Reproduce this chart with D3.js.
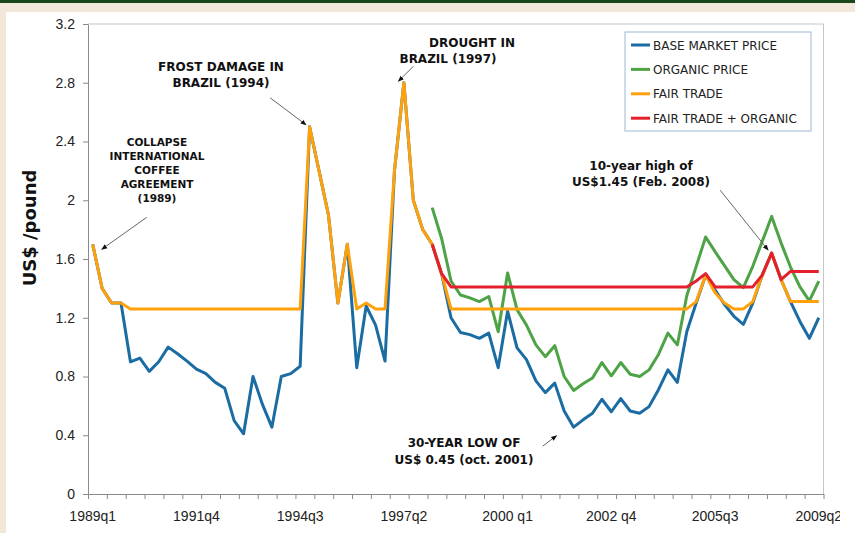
<!DOCTYPE html>
<html>
<head>
<meta charset="utf-8">
<script src="https://cdn.jsdelivr.net/npm/d3@7"></script>
<style>
body { margin: 0; background: #f3e7da; }
svg { display: block; font-family: "DejaVu Sans", Verdana, sans-serif; }
.axis path, .axis line { stroke: #8a8a8a; }
.axis text { font-size: 14px; fill: #222; }
.note { font-weight: bold; fill: #111; text-anchor: middle; }
</style>
</head>
<body>
<script>
// quarterly prices, 1989q1 onwards (US$ / pound)
const basePrice = [1.70, 1.40, 1.30, 1.30, 0.90, 0.925, 0.835, 0.90, 1.00, 0.955,
  0.905, 0.85, 0.82, 0.76, 0.72, 0.50, 0.41, 0.80, 0.61, 0.455,
  0.80, 0.82, 0.87, 2.50, 2.20, 1.90, 1.30, 1.70, 0.86, 1.28,
  1.15, 0.905, 2.20, 2.80, 2.00, 1.80, 1.70, 1.50, 1.20, 1.10,
  1.085, 1.06, 1.095, 0.86, 1.245, 0.995, 0.915, 0.77, 0.69, 0.755,
  0.565, 0.455, 0.505, 0.55, 0.645, 0.56, 0.65, 0.565, 0.55, 0.595,
  0.71, 0.845, 0.76, 1.105, 1.30, 1.49, 1.39, 1.29, 1.21, 1.155,
  1.30, 1.49, 1.64, 1.46, 1.31, 1.175, 1.06, 1.20];

const organicPrice = [null, null, null, null, null, null, null, null, null, null,
  null, null, null, null, null, null, null, null, null, null,
  null, null, null, null, null, null, null, null, null, null,
  null, null, null, null, null, null, 1.95, 1.74, 1.45, 1.355,
  1.335, 1.31, 1.345, 1.105, 1.505, 1.255, 1.15, 1.015, 0.935, 1.01,
  0.80, 0.705, 0.75, 0.79, 0.895, 0.805, 0.895, 0.815, 0.80, 0.845,
  0.95, 1.095, 1.015, 1.35, 1.55, 1.75, 1.65, 1.555, 1.46, 1.405,
  1.55, 1.72, 1.89, 1.71, 1.545, 1.41, 1.315, 1.45];

const fairTrade = [1.70, 1.40, 1.30, 1.30, 1.26, 1.26, 1.26, 1.26, 1.26, 1.26,
  1.26, 1.26, 1.26, 1.26, 1.26, 1.26, 1.26, 1.26, 1.26, 1.26,
  1.26, 1.26, 1.26, 2.50, 2.20, 1.90, 1.30, 1.70, 1.26, 1.30,
  1.26, 1.26, 2.20, 2.80, 2.00, 1.80, 1.70, 1.50, 1.26, 1.26,
  1.26, 1.26, 1.26, 1.26, 1.26, 1.26, 1.26, 1.26, 1.26, 1.26,
  1.26, 1.26, 1.26, 1.26, 1.26, 1.26, 1.26, 1.26, 1.26, 1.26,
  1.26, 1.26, 1.26, 1.26, 1.31, 1.49, 1.37, 1.30, 1.26, 1.26,
  1.31, 1.49, 1.64, 1.46, 1.31, 1.31, 1.31, 1.31];

const fairTradeOrganic = [null, null, null, null, null, null, null, null, null, null,
  null, null, null, null, null, null, null, null, null, null,
  null, null, null, null, null, null, null, null, null, null,
  null, null, null, null, null, null, 1.70, 1.50, 1.41, 1.41,
  1.41, 1.41, 1.41, 1.41, 1.41, 1.41, 1.41, 1.41, 1.41, 1.41,
  1.41, 1.41, 1.41, 1.41, 1.41, 1.41, 1.41, 1.41, 1.41, 1.41,
  1.41, 1.41, 1.41, 1.41, 1.45, 1.50, 1.41, 1.41, 1.41, 1.41,
  1.41, 1.49, 1.64, 1.46, 1.515, 1.515, 1.515, 1.515];

const seriesNames = ["BASE MARKET PRICE", "ORGANIC PRICE", "FAIR TRADE", "FAIR TRADE + ORGANIC"];
const seriesColors = ["#1b6ca3", "#4da345", "#ffa10a", "#e3202c"];
const tickLabels = ["1989q1", "1991q4", "1994q3", "1997q2", "2000 q1", "2002 q4", "2005q3", "2009q2"];
const tickIndex = [0, 11, 22, 33, 44, 55, 66, 77];
const yTicks = [0, 0.4, 0.8, 1.2, 1.6, 2, 2.4, 2.8, 3.2];

const width = 855, height = 533;
const plot = {left: 88, right: 823.5, top: 24, bottom: 494};

const svg = d3.select("body").append("svg")
    .attr("width", width).attr("height", height);

// page frame
svg.append("rect").attr("width", width).attr("height", 3).attr("fill", "#1b451b");
svg.append("rect").attr("x", 6).attr("y", 12)
    .attr("width", width - 6).attr("height", height - 12).attr("fill", "#fff");

// the original picture is cut off on the right
svg.append("clipPath").attr("id", "cut")
  .append("rect").attr("x", 0).attr("y", 0).attr("width", 840).attr("height", height);

const x = d3.scaleBand().domain(d3.range(basePrice.length)).range([plot.left, plot.right]);
const xEdge = d3.scaleLinear().domain([0, basePrice.length]).range([plot.left, plot.right]);
const y = d3.scaleLinear().domain([0, 3.2]).range([plot.bottom, plot.top]);
const cx = i => x(i) + x.bandwidth() / 2;

// light frame (top / right)
svg.append("path")
    .attr("d", `M${plot.left},${plot.top}H${plot.right}V${plot.bottom}`)
    .attr("fill", "none").attr("stroke", "#c6c6c6");

// y axis
svg.append("g").attr("class", "axis")
    .attr("transform", `translate(${plot.left},0)`)
    .call(d3.axisLeft(y).tickValues(yTicks).tickFormat(d => d).tickSize(5).tickPadding(8).tickSizeOuter(0));

// x tick marks every 2 quarters, labels every 11
svg.append("g").attr("class", "axis")
    .attr("transform", `translate(0,${plot.bottom})`)
    .call(d3.axisBottom(xEdge).tickValues(d3.range(0, basePrice.length + 1, 2)).tickFormat("").tickSize(5).tickSizeOuter(0));
svg.append("g").attr("clip-path", "url(#cut)")
  .append("g").attr("class", "axis")
    .attr("transform", `translate(0,${plot.bottom})`)
    .call(d3.axisBottom(x).tickValues(tickIndex).tickFormat((d, i) => tickLabels[i]).tickSize(0).tickPadding(17))
    .call(g => g.select(".domain").remove());

svg.append("text")
    .attr("transform", "translate(36,228) rotate(-90)")
    .attr("text-anchor", "middle")
    .style("font-size", "18px").style("font-weight", "bold").attr("fill", "#111")
    .text("US$ /pound");

// lines
const line = d3.line()
    .defined(d => d != null)
    .x((d, i) => cx(i))
    .y(d => y(d));

[basePrice, organicPrice, fairTrade, fairTradeOrganic].forEach((s, k) => {
  svg.append("path")
      .attr("d", line(s))
      .attr("fill", "none")
      .attr("stroke", seriesColors[k])
      .attr("stroke-width", 3)
      .attr("stroke-linejoin", "round");
});

// legend
const legend = svg.append("g").attr("transform", "translate(625,32)");
legend.append("rect").attr("width", 186).attr("height", 99)
    .attr("fill", "#fff").attr("stroke", "#9db7d6");
seriesNames.forEach((name, k) => {
  const ly = 13 + k * 24.4;
  legend.append("line").attr("x1", 6).attr("x2", 25).attr("y1", ly).attr("y2", ly)
      .attr("stroke", seriesColors[k]).attr("stroke-width", 3);
  legend.append("text").attr("x", 28).attr("y", ly + 4.5)
      .style("font-size", "12px").attr("fill", "#222").text(name);
});

// annotations
svg.append("defs").append("marker")
    .attr("id", "head").attr("viewBox", "0 0 10 10")
    .attr("refX", 9).attr("refY", 5)
    .attr("markerWidth", 6).attr("markerHeight", 6)
    .attr("orient", "auto")
  .append("path").attr("d", "M0,1L10,5L0,9Z").attr("fill", "#111");

const notes = [
  {lines: ["COLLAPSE", "INTERNATIONAL", "COFFEE", "AGREEMENT", "(1989)"], cx: 157, y0: 145.5, dy: 14, size: 10.5,
   at: 0, tip: [9, 5], tail: [45, -32]},
  {lines: ["FROST DAMAGE IN", "BRAZIL (1994)"], cx: 221, y0: 71, dy: 16, size: 12,
   at: 23, tip: [-3.5, -2], tail: [-36, -27]},
  {lines: ["DROUGHT IN"], cx: 472, y0: 46.5, dy: 16, size: 12,
   at: 33, tip: [-5.5, -1.5], tail: [15, -15]},
  {lines: ["BRAZIL (1997)"], cx: 448, y0: 62.5, dy: 16, size: 12},
  {lines: ["10-year high of", "US$1.45 (Feb. 2008)"], cx: 641, y0: 170, dy: 16, size: 12,
   at: 72, tip: [-3.5, -3], tail: [-48, -60]},
  {lines: ["30-YEAR LOW OF", "US$ 0.45 (oct. 2001)"], cx: 464, y0: 447, dy: 16.5, size: 12,
   at: 51, tip: [-17, 8.5], tail: [-14, 10.5]}
];

notes.forEach(n => {
  const t = svg.append("text").attr("class", "note").style("font-size", n.size + "px");
  n.lines.forEach((s, j) => t.append("tspan").attr("x", n.cx).attr("y", n.y0 + j * n.dy).text(s));
  if (n.at != null) {
    const tx = cx(n.at) + n.tip[0], ty = y(basePrice[n.at]) + n.tip[1];
    svg.append("line")
        .attr("x1", tx + n.tail[0]).attr("y1", ty + n.tail[1])
        .attr("x2", tx).attr("y2", ty)
        .attr("stroke", "#666").attr("stroke-width", 1)
        .attr("marker-end", "url(#head)");
  }
});
</script>
</body>
</html>
